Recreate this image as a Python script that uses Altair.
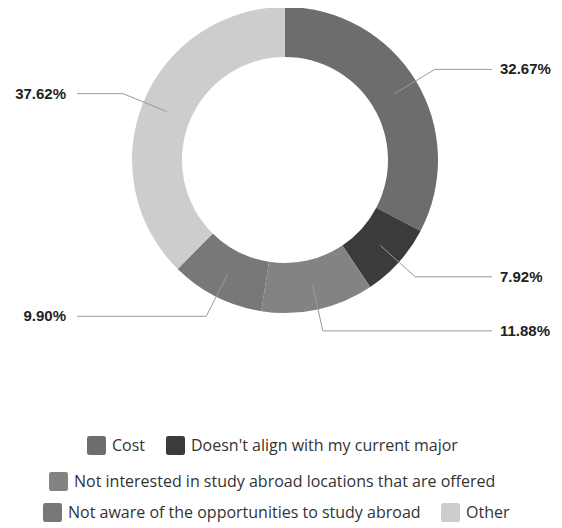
import altair as alt
import pandas as pd

categories = [
    "Cost",
    "Doesn't align with my current major",
    "Not interested in study abroad locations that are offered",
    "Not aware of the opportunities to study abroad",
    "Other",
]
values = [32.67, 7.92, 11.88, 9.90, 37.62]
labels = ["32.67%", "7.92%", "11.88%", "9.90%", "37.62%"]
colors = ["#6d6d6d", "#3b3b3b", "#838383", "#787878", "#cdcdcd"]
legend_rows = [[0, 1], [2], [3, 4]]

df = pd.DataFrame({"category": categories, "value": values, "label": labels,
                   "order": list(range(len(categories)))})

W, H = 546, 304
CX, CY = 277, 152
R_IN, R_OUT = 103, 153
R_START, R_ELBOW = 128, 175
X_RIGHT, X_LEFT = CX + 207, CX - 208
TX_RIGHT, TX_LEFT = CX + 215, CX - 219

base = (
    alt.Chart(df)
    .transform_window(cum="sum(value)", sort=[alt.SortField("order")], frame=[None, 0])
    .transform_joinaggregate(total="sum(value)")
    .transform_calculate(
        t0="(datum.cum - datum.value) / datum.total * 2 * PI",
        t1="datum.cum / datum.total * 2 * PI",
        mid="(datum.cum - datum.value / 2) / datum.total * 2 * PI",
    )
    .transform_calculate(
        x0=f"{CX} + {R_START} * sin(datum.mid)",
        y0=f"{CY} - {R_START} * cos(datum.mid)",
        x1=f"{CX} + {R_ELBOW} * sin(datum.mid)",
        y1=f"{CY} - {R_ELBOW} * cos(datum.mid)",
        side="sin(datum.mid) > 0 ? 1 : -1",
    )
    .transform_calculate(
        x2=f"datum.side > 0 ? {X_RIGHT} : {X_LEFT}",
        tx=f"datum.side > 0 ? {TX_RIGHT} : {TX_LEFT}",
    )
)

rounded = "M -0.75 -1 H 0.75 Q 1 -1 1 -0.75 V 0.75 Q 1 1 0.75 1 H -0.75 Q -1 1 -1 0.75 V -0.75 Q -1 -1 -0.75 -1 Z"
legend_pos = [(79, 428), (41, 464), (35, 495)]

arc_layers = []
for (lx, ly), rows in zip(legend_pos, legend_rows):
    sub = [categories[j] for j in rows]
    arc_layers.append(
        base.transform_filter(alt.FieldOneOfPredicate(field="category", oneOf=sub))
        .mark_arc(innerRadius=R_IN, outerRadius=R_OUT)
        .encode(
            x=alt.value(CX),
            y=alt.value(CY),
            theta=alt.Theta("t0:Q", scale=None, stack=None),
            theta2="t1:Q",
            color=alt.Color(
                "category:N",
                scale=alt.Scale(domain=sub, range=[colors[j] for j in rows]),
                legend=alt.Legend(
                    title=None, orient="none", legendX=lx, legendY=ly,
                    direction="horizontal", symbolType=rounded, symbolSize=361,
                    symbolStrokeWidth=0, symbolOpacity=1, labelFontSize=16,
                    labelFont="Open Sans", labelColor="#333333", labelOffset=6,
                    columnPadding=20, padding=0, labelLimit=700,
                ),
            ),
        )
    )

rule_a = base.mark_rule(color="#9a9a9a", strokeWidth=1).encode(
    x=alt.X("x0:Q", scale=None, axis=None), y=alt.Y("y0:Q", scale=None, axis=None),
    x2="x1:Q", y2="y1:Q",
)
rule_b = base.mark_rule(color="#9a9a9a", strokeWidth=1).encode(
    x=alt.X("x1:Q", scale=None, axis=None), y=alt.Y("y1:Q", scale=None, axis=None),
    x2="x2:Q",
)
text_r = base.transform_filter("datum.side > 0").mark_text(
    align="left", baseline="middle", font="Liberation Sans", fontSize=15,
    fontWeight="bold", color="#222222",
).encode(x=alt.X("tx:Q", scale=None, axis=None), y=alt.Y("y1:Q", scale=None, axis=None), text="label:N")
text_l = base.transform_filter("datum.side < 0").mark_text(
    align="right", baseline="middle", font="Liberation Sans", fontSize=15,
    fontWeight="bold", color="#222222",
).encode(x=alt.X("tx:Q", scale=None, axis=None), y=alt.Y("y1:Q", scale=None, axis=None), text="label:N")

chart = (
    alt.layer(*arc_layers, rule_a, rule_b, text_r, text_l)
    .resolve_scale(color="independent")
    .properties(width=W, height=H, autosize=alt.AutoSizeParams(type="none"),
                padding={"left": 0, "top": 0, "right": 0, "bottom": 210},
                background="white")
    .configure_view(stroke=None, strokeWidth=0)
)

chart.save("out.html", embed_options={"renderer": "svg", "actions": False})
